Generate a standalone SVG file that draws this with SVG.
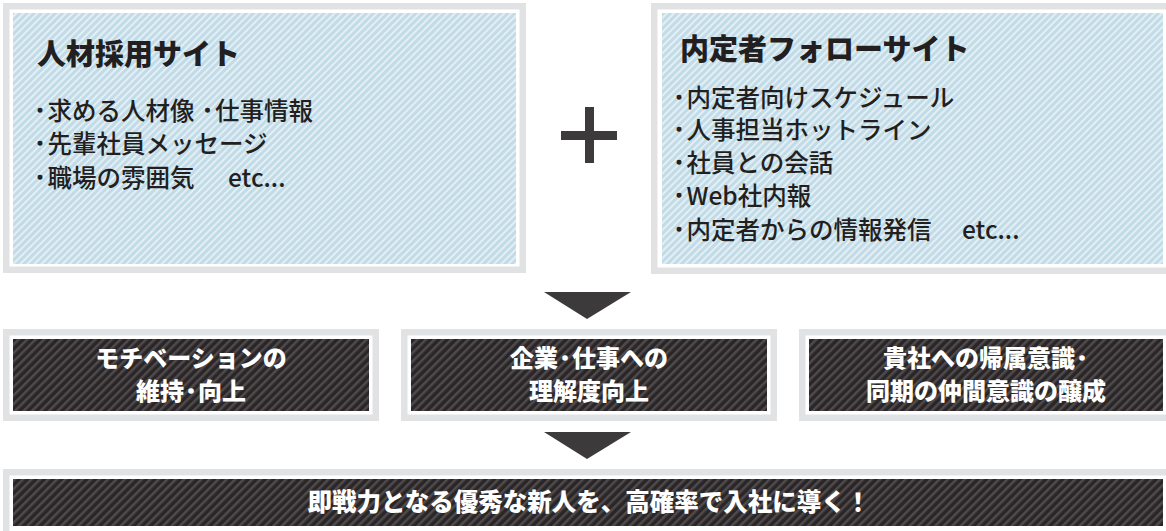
<svg xmlns="http://www.w3.org/2000/svg" width="1166" height="531" viewBox="0 0 1166 531">
  <style>
    .frame { fill: #e1e2e4; }
    .gap { fill: #ffffff; }
    .blue { fill: url(#hatchBlue); }
    .dark { fill: url(#hatchDark); }
    .title { font-family: "Noto Sans CJK JP", sans-serif; font-weight: 900; font-size: 29px; fill: #231f20; }
    .item { font-family: "Noto Sans CJK JP", sans-serif; font-weight: 500; font-size: 24.5px; fill: #231f20; }
    .wlabel { font-family: "Noto Sans CJK JP", sans-serif; font-weight: 900; font-size: 24px; fill: #ffffff; text-anchor: middle; }
    .wlabel2 { font-family: "Noto Sans CJK JP", sans-serif; font-weight: 900; font-size: 24.5px; fill: #ffffff; text-anchor: middle; }
    .bi { font-size: 15px; stroke: #231f20; stroke-width: 1.4px; }
    .bw { font-size: 14px; stroke: #ffffff; stroke-width: 1.6px; }
    .arrow { fill: #3d3a3b; }
  </style>
  <defs>
    <pattern id="hatchBlue" patternUnits="userSpaceOnUse" width="5" height="5" patternTransform="rotate(45)">
      <rect width="5" height="5" fill="#c1dbe7"/>
      <rect width="2" height="5" fill="#e3eff5"/>
    </pattern>
    <pattern id="hatchDark" patternUnits="userSpaceOnUse" width="6" height="6" patternTransform="rotate(45)">
      <rect width="6" height="6" fill="#2a2627"/>
      <rect width="2.5" height="6" fill="#4f4a4b"/>
    </pattern>
  </defs>

  <g id="recruit-site">
    <rect class="frame" x="3" y="3" width="523" height="270"/>
    <rect class="gap" x="9.5" y="9.5" width="510" height="257"/>
    <rect class="blue" x="13" y="13" width="503" height="251"/>
    <text class="title" x="37" y="65">人材採用サイト</text>
    <text class="item" x="32.5" y="120"><tspan class="bi" baseline-shift="3.6">・</tspan>求める人材像 <tspan class="bi" baseline-shift="3.6">・</tspan>仕事情報</text>
    <text class="item" x="32.5" y="153"><tspan class="bi" baseline-shift="3.6">・</tspan>先輩社員メッセージ</text>
    <text class="item" x="32.5" y="187"><tspan class="bi" baseline-shift="3.6">・</tspan>職場の雰囲気　<tspan dx="9">etc...</tspan></text>
  </g>

  <g id="plus">
    <rect class="arrow" x="585" y="107" width="9" height="56"/>
    <rect class="arrow" x="561" y="131" width="56" height="9"/>
  </g>

  <g id="follow-site">
    <rect class="frame" x="651" y="3" width="525" height="271"/>
    <rect class="gap" x="657.5" y="9.5" width="512" height="258"/>
    <rect class="blue" x="662" y="13" width="501" height="251"/>
    <text class="title" x="680" y="60">内定者フォローサイト</text>
    <text class="item" x="671.5" y="107"><tspan class="bi" baseline-shift="3.6">・</tspan>内定者向けスケジュール</text>
    <text class="item" x="671.5" y="139"><tspan class="bi" baseline-shift="3.6">・</tspan>人事担当ホットライン</text>
    <text class="item" x="671.5" y="172"><tspan class="bi" baseline-shift="3.6">・</tspan>社員との会話</text>
    <text class="item" x="671.5" y="205"><tspan class="bi" baseline-shift="3.6">・</tspan>Web社内報</text>
    <text class="item" x="671.5" y="239"><tspan class="bi" baseline-shift="3.6">・</tspan>内定者からの情報発信　<tspan dx="6">etc...</tspan></text>
  </g>

  <g id="connectors">
    <polygon class="arrow" points="544,292 631,292 587,319"/>
    <polygon class="arrow" points="544,432 631,432 587,459"/>
  </g>

  <g id="motivation">
    <rect class="frame" x="3" y="329" width="376" height="92"/>
    <rect class="gap" x="9.5" y="335.5" width="363" height="79"/>
    <rect class="dark" x="13" y="339" width="356" height="72"/>
    <text class="wlabel" x="191" y="367">モチベーションの</text>
    <text class="wlabel" x="191" y="400">維持<tspan class="bw" baseline-shift="3.8">・</tspan>向上</text>
  </g>

  <g id="understanding">
    <rect class="frame" x="401" y="329" width="376" height="92"/>
    <rect class="gap" x="407.5" y="335.5" width="363" height="79"/>
    <rect class="dark" x="411" y="339" width="356" height="72"/>
    <text class="wlabel" x="589" y="367">企業<tspan class="bw" baseline-shift="3.8">・</tspan>仕事への</text>
    <text class="wlabel" x="589" y="400">理解度向上</text>
  </g>

  <g id="belonging">
    <rect class="frame" x="799" y="329" width="376" height="92"/>
    <rect class="gap" x="805.5" y="335.5" width="363" height="79"/>
    <rect class="dark" x="809" y="339" width="354" height="72"/>
    <text class="wlabel" x="986" y="367">貴社への帰属意識<tspan class="bw" baseline-shift="3.8">・</tspan></text>
    <text class="wlabel" x="986" y="400">同期の仲間意識の醸成</text>
  </g>

  <g id="result">
    <rect class="frame" x="3" y="469" width="1172" height="70"/>
    <rect class="gap" x="9.5" y="475.5" width="1159" height="60"/>
    <rect class="dark" x="13" y="479" width="1150" height="47"/>
    <text class="wlabel2" x="589" y="511">即戦力となる優秀な新人を、高確率で入社に導く！</text>
  </g>
</svg>
